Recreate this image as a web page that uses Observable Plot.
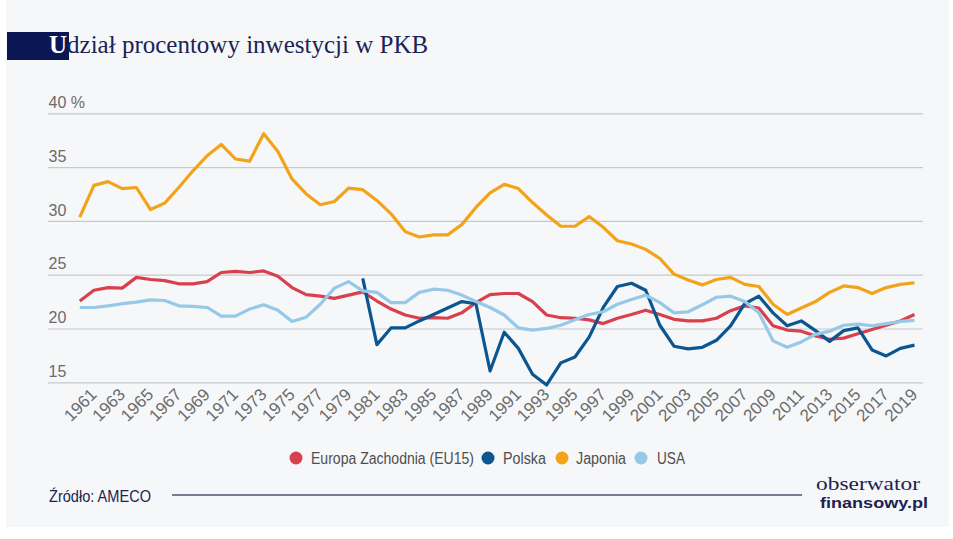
<!DOCTYPE html>
<html>
<head>
<meta charset="utf-8">
<script src="https://cdn.jsdelivr.net/npm/d3@7"></script>
<script src="https://cdn.jsdelivr.net/npm/@observablehq/plot@0.6"></script>
<style>
  html, body { margin: 0; padding: 0; background: #ffffff; }
  body { width: 953px; height: 539px; position: relative; overflow: hidden; }
  #card { position: absolute; left: 6px; top: 0; width: 943px; height: 527px; background: #f6f7f9; }
  #chart { position: absolute; left: 0; top: 0; }
  #titlebox { position: absolute; left: 7px; top: 32px; width: 62px; height: 28px; background: #0b1655; }
  #title { position: absolute; left: 49px; top: 32px; font-family: "Liberation Serif", "DejaVu Serif", serif; font-size: 25px; line-height: 25px; color: #1a2356; white-space: nowrap; }
  #title .u { color: #ffffff; font-weight: bold; }
  #overlay { position: absolute; left: 0; top: 0; }
</style>
</head>
<body>
<div id="card"></div>
<div id="titlebox"></div>
<div id="title"><span class="u">U</span>dział procentowy inwestycji w PKB</div>
<div id="chart"></div>
<svg id="overlay" width="953" height="539">
  <g id="legend"></g>
  <text x="49" y="502" textLength="102" lengthAdjust="spacingAndGlyphs" font-family="Liberation Sans, Arial, sans-serif" font-size="16" fill="#1c2350">Źródło: AMECO</text>
  <line x1="172" x2="802" y1="495" y2="495" stroke="#4b5274" stroke-width="1.5"></line>
  <text x="816" y="489.5" textLength="104" lengthAdjust="spacingAndGlyphs" font-family="Liberation Serif, DejaVu Serif, serif" font-size="19" fill="#1c2350">obserwator</text>
  <text x="820" y="508" textLength="108" lengthAdjust="spacingAndGlyphs" font-family="Liberation Sans, Arial, sans-serif" font-weight="bold" font-size="15.5" fill="#1c2350">finansowy.pl</text>
</svg>
<script>
const years = [1960,1961,1962,1963,1964,1965,1966,1967,1968,1969,
  1970,1971,1972,1973,1974,1975,1976,1977,1978,1979,
  1980,1981,1982,1983,1984,1985,1986,1987,1988,1989,
  1990,1991,1992,1993,1994,1995,1996,1997,1998,1999,
  2000,2001,2002,2003,2004,2005,2006,2007,2008,2009,
  2010,2011,2012,2013,2014,2015,2016,2017,2018,2019];

const eu15 = [22.6,23.6,23.85,23.8,24.8,24.6,24.5,24.2,24.2,24.4,
  25.25,25.35,25.25,25.4,24.9,23.85,23.2,23.05,22.85,23.15,
  23.45,22.6,21.85,21.3,21.0,21.05,21.0,21.5,22.45,23.2,
  23.3,23.3,22.55,21.3,21.05,21.0,20.85,20.5,21.0,21.35,
  21.75,21.35,20.9,20.75,20.75,21.0,21.7,22.15,21.95,20.3,
  19.9,19.8,19.35,19.05,19.15,19.55,19.95,20.35,20.75,21.35];

const polska = [null,null,null,null,null,null,null,null,null,null,
  null,null,null,null,null,null,null,null,null,null,
  24.7,18.55,20.1,20.1,20.75,21.35,21.95,22.55,22.35,16.1,
  19.7,18.2,15.8,14.8,16.85,17.4,19.25,22.0,23.95,24.25,
  23.6,20.35,18.4,18.15,18.3,18.95,20.3,22.35,23.05,21.5,
  20.3,20.75,19.85,18.85,19.85,20.1,18.05,17.5,18.2,18.5];

const japonia = [30.4,33.35,33.7,33.05,33.15,31.1,31.7,33.15,34.7,36.1,
  37.15,35.8,35.6,38.15,36.5,33.95,32.55,31.55,31.85,33.1,
  32.95,31.95,30.7,29.05,28.55,28.75,28.75,29.7,31.3,32.65,
  33.45,33.05,31.75,30.6,29.55,29.55,30.45,29.45,28.2,27.9,
  27.4,26.55,25.1,24.55,24.1,24.6,24.8,24.15,23.95,22.3,
  21.35,21.95,22.55,23.4,24.0,23.85,23.3,23.85,24.15,24.3];

const usa = [22.0,22.0,22.15,22.35,22.5,22.7,22.65,22.15,22.1,22.0,
  21.2,21.2,21.85,22.25,21.75,20.7,21.1,22.3,23.8,24.4,
  23.55,23.4,22.45,22.45,23.4,23.7,23.6,23.15,22.55,22.0,
  21.3,20.1,19.9,20.05,20.35,20.85,21.35,21.6,22.3,22.75,
  23.15,22.45,21.5,21.6,22.25,22.95,23.05,22.55,21.5,18.9,
  18.3,18.8,19.5,19.8,20.35,20.45,20.3,20.5,20.7,20.8];

const seriesNames = ["Europa Zachodnia (EU15)", "Polska", "Japonia", "USA"];
const seriesColors = ["#d8404e", "#0b5690", "#f2a318", "#95c9e7"];
const yTicks = [15, 20, 25, 30, 35, 40];
const xTicks = [1961,1963,1965,1967,1969,1971,1973,1975,1977,1979,1981,1983,1985,1987,1989,
  1991,1993,1995,1997,1999,2001,2003,2005,2007,2009,2011,2013,2015,2017,2019];

const seriesValues = [eu15, polska, japonia, usa];
const rows = [];
seriesNames.forEach((name, i) => {
  years.forEach((yr, j) => {
    rows.push({series: name, year: yr, value: seriesValues[i][j]});
  });
});

const axisFont = "'Liberation Sans', Arial, sans-serif";

const chart = Plot.plot({
  width: 953,
  height: 440,
  marginTop: 113.3,
  marginBottom: 57.7,
  marginLeft: 48,
  marginRight: 30,
  style: { background: "transparent", fontFamily: axisFont, fontSize: "16px", color: "#6b6b6b", overflow: "visible" },
  x: { domain: [1957.788, 2019.636] },
  y: { domain: [15, 40] },
  color: { domain: seriesNames, range: seriesColors },
  marks: [
    Plot.ruleY(yTicks, { stroke: "#c8c9cd", strokeWidth: 1.2 }),
    Plot.axisY({ ticks: yTicks, tickSize: 0, tickPadding: 0, textAnchor: "start", dy: -11,
      tickFormat: d => d === 40 ? "40 %" : String(d), label: null, fontSize: 16, fill: "#6b6b6b" }),
    Plot.axisX({ ticks: xTicks, tickSize: 0, tickPadding: 9, tickRotate: -45,
      tickFormat: d => String(d), label: null, fontSize: 17, fill: "#6b6b6b" }),
    Plot.line(rows, { x: "year", y: "value", z: "series", stroke: "series",
      strokeWidth: 3.2, strokeLinejoin: "round", strokeLinecap: "butt", curve: "linear" })
  ]
});
document.getElementById("chart").appendChild(chart);

// legend (positions are layout only)
const legendDots = [296, 488, 562, 641];
const legendTextX = [311, 503, 576, 657];
const legendTextW = [163, 43, 50, 28];
const ns = "http://www.w3.org/2000/svg";
const lg = document.getElementById("legend");
seriesNames.forEach((name, i) => {
  const c = document.createElementNS(ns, "circle");
  c.setAttribute("cx", legendDots[i]);
  c.setAttribute("cy", 458);
  c.setAttribute("r", 6.5);
  c.setAttribute("fill", seriesColors[i]);
  lg.appendChild(c);
  const t = document.createElementNS(ns, "text");
  t.setAttribute("x", legendTextX[i]);
  t.setAttribute("y", 463.5);
  t.setAttribute("textLength", legendTextW[i]);
  t.setAttribute("lengthAdjust", "spacingAndGlyphs");
  t.setAttribute("font-family", "Liberation Sans, Arial, sans-serif");
  t.setAttribute("font-size", 16);
  t.setAttribute("fill", "#4f4f4f");
  t.textContent = name;
  lg.appendChild(t);
});
</script>
</body>
</html>
